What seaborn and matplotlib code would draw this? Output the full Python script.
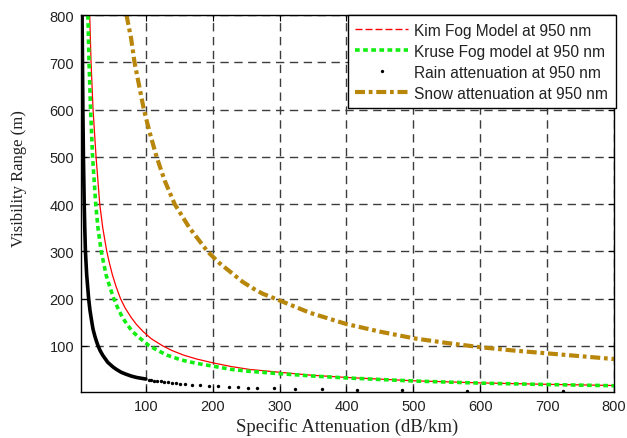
import matplotlib
matplotlib.use("Agg")
import matplotlib.pyplot as plt
from matplotlib.lines import Line2D
import seaborn as sns

# Visibility range (m) against specific attenuation (dB/km) at 950 nm
kim_vis = [800, 700, 600, 500, 400, 350, 300, 275, 250, 225, 200, 180, 160, 145, 130,
           115, 100, 90, 80, 72, 64, 56, 50, 44, 38, 33, 26, 21.5, 18.5, 16]
kim_att = [16, 18, 21, 25.5, 31, 35.5, 41.5, 45.5, 50, 55.5, 62, 69, 78, 86, 96,
           108, 125, 139, 157, 176, 200, 228, 255, 300, 345, 400, 500, 600, 700, 800]

kruse_vis = [800, 700, 600, 500, 400, 350, 300, 250, 225, 200, 180, 160, 145, 130,
             115, 100, 90, 80, 70, 63, 57, 50, 46, 41, 36, 32, 25.5, 21, 18, 15.5]
kruse_att = [13.3, 15, 17.3, 20.3, 25, 28.3, 33.2, 40.5, 46, 52, 58, 65, 72, 80,
             92, 105, 118, 132, 153, 175, 200, 228, 255, 300, 350, 400, 500, 600, 700, 800]

# rain: densely sampled branch (merges into a solid trace) and the sparse tail
rain_vis = [800, 700, 600, 500, 400, 350, 300, 250, 200, 175, 150, 135, 120, 110,
            100, 90, 80, 72, 65, 60, 55, 50, 44, 40, 36, 33, 29.6]
rain_att = [4.6, 5.2, 5.8, 6.6, 7.8, 8.6, 9.6, 11.5, 14.4, 16.4, 19.2, 21, 23.8, 26,
            28.5, 31.5, 35.5, 39.5, 43, 47, 51, 56, 63, 70, 78, 86, 100]
rain_tail_vis = [28.5, 27.5, 26.5, 25.5, 24.5, 23.5, 22.5, 21.5, 20.5, 19.5, 18.5,
                 17, 16, 15, 14, 13, 12, 11.3, 10.7, 9.8, 8.8, 7.8, 6.9, 5.9, 4.9, 3.9]
rain_tail_att = [104, 108, 112, 117, 122, 127, 133, 139, 145, 151, 158,
                 169, 181, 194, 208, 224, 238, 253, 266, 291, 323, 363, 415, 483, 580, 724]

snow_vis = [800, 750, 700, 650, 600, 550, 500, 450, 400, 350, 300, 275, 250, 235,
            220, 210, 196, 170, 146, 130, 116, 106, 97, 90, 84, 78, 72]
snow_att = [71, 78, 83, 90, 97, 106, 116, 128, 143, 165, 192, 210, 232, 245,
            262, 275, 300, 345, 400, 450, 500, 550, 600, 650, 700, 750, 800]

x_ticks = [100, 200, 300, 400, 500, 600, 700, 800]
y_ticks = [100, 200, 300, 400, 500, 600, 700, 800]

series_labels = ["Kim Fog Model at 950 nm", "Kruse Fog model at 950 nm",
                 "Rain attenuation at 950 nm", "Snow attenuation at 950 nm"]

KIM_C = "#ff0000"
KRUSE_C = "#12ee12"
RAIN_C = "#000000"
SNOW_C = "#b8860b"
GRID_C = "#3c3c3c"

sns.set_theme(style="white")
plt.rcParams["font.family"] = ["Liberation Sans", "DejaVu Sans"]

fig = plt.figure(figsize=(6.27, 4.39), dpi=100)
ax = fig.add_axes([0.1292, 0.104, 0.850, 0.8595])

kim_ls = (0, (5, 2.2))
kruse_ls = (0, (1.3, 0.95))
snow_ls = (0, (2.4, 0.9, 0.9, 0.9))

sns.lineplot(x=kim_att, y=kim_vis, sort=False, estimator=None, ax=ax,
             color=KIM_C, lw=0.9, linestyle="-")
sns.lineplot(x=kruse_att, y=kruse_vis, sort=False, estimator=None, ax=ax,
             color=KRUSE_C, lw=2.6, linestyle=kruse_ls, dash_capstyle="butt")
sns.lineplot(x=rain_att, y=rain_vis, sort=False, estimator=None, ax=ax,
             color=RAIN_C, lw=2.6, linestyle="-")
sns.scatterplot(x=rain_tail_att, y=rain_tail_vis, ax=ax, color=RAIN_C,
                s=6, linewidth=0)
sns.lineplot(x=snow_att, y=snow_vis, sort=False, estimator=None, ax=ax,
             color=SNOW_C, lw=3.0, linestyle=snow_ls, dash_capstyle="butt")

ax.set_xlim(3, 800)
ax.set_ylim(1.5, 800)
ax.set_xticks(x_ticks)
ax.set_yticks(y_ticks)
ax.set_xticklabels([str(v) for v in x_ticks])
ax.set_yticklabels([str(v) for v in y_ticks])

ax.set_axisbelow(True)
ax.grid(True, linestyle=(0, (6, 4)), color=GRID_C, lw=1.0)
for sp in ax.spines.values():
    sp.set_visible(True)
    sp.set_color("black")
    sp.set_linewidth(1.0)
ax.tick_params(direction="in", length=4, width=0.8, top=True, right=True,
               bottom=True, left=True, labelsize=10.5, colors="black", pad=5)
for lab in ax.get_xticklabels() + ax.get_yticklabels():
    lab.set_color("#222222")

serif = ["Liberation Serif", "DejaVu Serif"]
ax.set_xlabel("Specific Attenuation (dB/km)", family=serif, fontsize=13.5,
              color="#222222")
ax.set_ylabel("Visibility Range (m)", family=serif, fontsize=12,
              color="#222222")
ax.xaxis.set_label_coords(0.5, -0.066)
ax.yaxis.set_label_coords(-0.102, 0.568)

handles = [
    Line2D([], [], color=KIM_C, lw=1.0, linestyle=kim_ls),
    Line2D([], [], color=KRUSE_C, lw=2.6, linestyle=kruse_ls, dash_capstyle="butt"),
    Line2D([], [], color=RAIN_C, linestyle="none", marker="o", markersize=2.4,
           markeredgewidth=0),
    Line2D([], [], color=SNOW_C, lw=3.0, linestyle=snow_ls, dash_capstyle="butt"),
]
leg = ax.legend(handles, series_labels, loc="upper right", bbox_to_anchor=(1.004, 1),
                borderaxespad=0, fontsize=11.2, handlelength=3.4, handletextpad=0.4,
                labelspacing=0.38, borderpad=0.5, frameon=True, fancybox=False,
                framealpha=1, edgecolor="black", numpoints=1)
leg.get_frame().set_linewidth(1.0)
for t in leg.get_texts():
    t.set_color("#222222")

fig.savefig("out.png", dpi=100, facecolor="white")
